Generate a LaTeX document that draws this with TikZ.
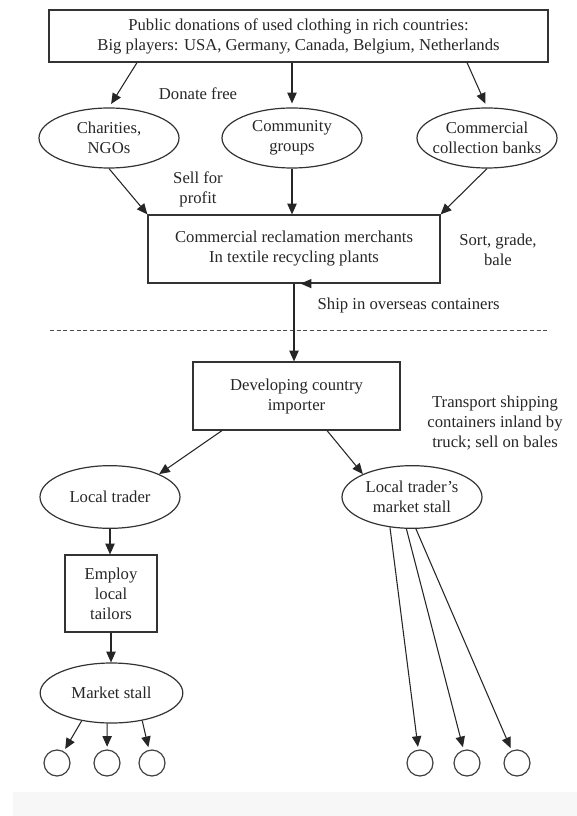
\documentclass[tikz,border=0pt]{standalone}
\usepackage{fontspec}
\setmainfont{Liberation Serif}
\usetikzlibrary{arrows.meta,shapes.geometric}
\newcommand{\figfont}{\fontsize{12.5}{15}\selectfont}

\begin{document}
\begin{tikzpicture}[x=0.75pt,y=0.75pt,yscale=-1,
  every node/.style={font=\figfont, text=black!85},
  box/.style={draw=black!80, line width=0.9pt, rectangle, align=center, inner sep=0pt},
  oval/.style={draw=black!80, line width=0.9pt, ellipse, align=center, inner xsep=-6pt, inner ysep=0pt, minimum width=105pt, minimum height=45pt},
  leaf/.style={draw=black!75, line width=0.9pt, circle, minimum size=19.5pt, inner sep=0pt},
  note/.style={align=center},
  flow/.style={draw=black!85, line width=0.8pt, -{Triangle[length=8pt,width=7pt]}}]
\useasboundingbox (0,0) rectangle (577,816);
\fill[black!3] (13,792) rectangle (577,816);

% rich countries
\node[box, minimum width=374.25pt, minimum height=39pt] (donor) at (298.5,36) {Public donations of used clothing in rich countries:\\ Big players: USA, Germany, Canada, Belgium, Netherlands};
\node[oval] (charity) at (109,138) {Charities,\\ NGOs};
\node[oval] (community) at (292,138) {Community\\ groups};
\node[oval] (banks) at (487,138) {Commercial\\ collection banks};
\node[note] (donate) at (198,94) {Donate free};
\node[note] (sell) at (198,189) {Sell for\\ profit};
\node[box, minimum width=219pt, minimum height=51pt] (merchant) at (294,249) {Commercial reclamation merchants\\ In textile recycling plants};
\node[note] (sort) at (498,250) {Sort, grade,\\ bale};
\node[note, anchor=west] (ship) at (313,305) {Ship in overseas containers};

\draw[black!70, line width=0.7pt, dash pattern=on 3pt off 2pt] (50,330) -- (548,330);

% developing country
\node[box, minimum width=155.25pt, minimum height=51pt] (importer) at (296.5,396) {Developing country\\ importer};
\node[note] (transport) at (495,423) {Transport shipping\\ containers inland by\\ truck; sell on bales};
\node[oval, minimum height=47pt] (trader) at (110,497) {Local trader};
\node[oval, minimum height=47pt] (stall) at (412,497) {Local trader's\\ market stall};
\node[box, minimum width=69pt, minimum height=57.75pt] (tailors) at (111,593.5) {Employ\\ local\\ tailors};
\node[oval, minimum width=107pt] (market) at (111.5,693) {Market stall};
\node[leaf] (buyera) at (57,763) {};
\node[leaf] (buyerb) at (107,763) {};
\node[leaf] (buyerc) at (152,763) {};
\node[leaf] (clienta) at (420,763) {};
\node[leaf] (clientb) at (467,763) {};
\node[leaf] (clientc) at (517,763) {};

% arrows
\draw[flow, shorten >=3pt] ([xshift=-121.1pt]donor.south) -- (charity.north);
\draw[flow, shorten >=3pt] (donor.south -| community) -- (community.north);
\draw[flow, shorten >=3pt] ([xshift=126.4pt]donor.south) -- (banks.north);
\draw[flow] (charity.south) -- (merchant.north west);
\draw[flow] (community) -- (community |- merchant.north);
\draw[flow] (banks.south) -- (merchant.north east);
\draw[flow] (merchant) -- (merchant |- importer.north);
\fill[black!85] ([xshift=5pt]merchant.south) -- ++(8pt,3.5pt) -- ++(0,-7pt) -- cycle;
\draw[flow] ([xshift=-55.9pt]importer.south) -- (trader.25);
\draw[flow] ([xshift=22.9pt]importer.south) -- (stall.155);
\draw[flow] (trader) -- (trader |- tailors.north);
\draw[flow] (tailors) -- (tailors |- market.north);
\draw[flow, shorten >=2pt] (market.223) -- (buyera);
\draw[flow, shorten >=2pt] (market.262) -- (buyerb);
\draw[flow, shorten >=2pt] (market.318) -- (buyerc);
\draw[flow, shorten >=2pt] (stall.234) -- (clienta);
\draw[flow, shorten >=2pt] (stall.260) -- (clientb);
\draw[flow, shorten >=2pt] (stall.277) -- (clientc);
\end{tikzpicture}
\end{document}
